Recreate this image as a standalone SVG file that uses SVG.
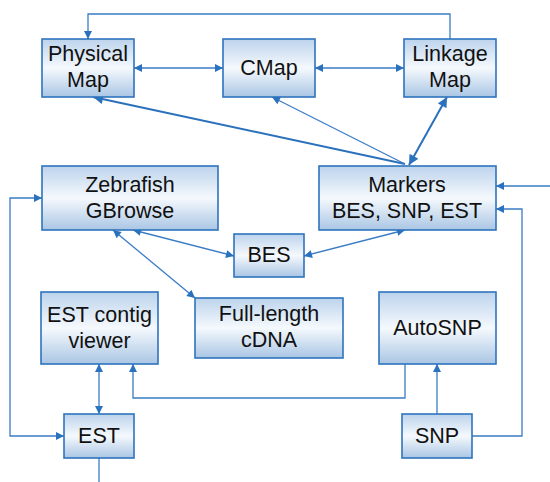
<svg xmlns="http://www.w3.org/2000/svg" width="550" height="482" viewBox="0 0 550 482">
<defs>
<linearGradient id="g" x1="0" y1="0" x2="0" y2="1">
<stop offset="0" stop-color="#bcd3ec"/>
<stop offset="0.5" stop-color="#f5f9fd"/>
<stop offset="1" stop-color="#aac6e4"/>
</linearGradient>
<marker id="a" viewBox="0 0 10 10" refX="10" refY="5" markerWidth="9" markerHeight="8" markerUnits="userSpaceOnUse" orient="auto-start-reverse">
<path d="M0,0 L10,5 L0,10 z" fill="#2a72be"/>
</marker>
<marker id="b" viewBox="0 0 10 10" refX="10" refY="5" markerWidth="11" markerHeight="10" markerUnits="userSpaceOnUse" orient="auto-start-reverse">
<path d="M0,0 L10,5 L0,10 z" fill="#2a72be"/>
</marker>
</defs>
<style>
.box{fill:url(#g);stroke:#2e74bd;stroke-width:1.6}
.t{font-family:"Liberation Sans",Arial,sans-serif;font-size:21.5px;fill:#111;text-anchor:middle}
.c{fill:none;stroke:#3a7cc4;stroke-width:1.3}
.k{fill:none;stroke:#2a70bb;stroke-width:2}
</style>
<g id="connectors">
<polyline class="c" points="450,39 450,14 88,14 88,39" marker-end="url(#a)"/>
<line class="c" x1="134" y1="68" x2="223" y2="68" marker-start="url(#a)" marker-end="url(#a)"/>
<line class="c" x1="315" y1="68" x2="404" y2="68" marker-start="url(#a)" marker-end="url(#a)"/>
<line class="k" x1="405" y1="164" x2="93" y2="97" marker-end="url(#b)"/>
<line class="c" x1="405" y1="164" x2="272" y2="97" marker-end="url(#a)"/>
<line class="k" x1="447" y1="97" x2="409" y2="165" marker-start="url(#b)" marker-end="url(#b)"/>
<line class="c" x1="133" y1="230" x2="234" y2="256" marker-start="url(#a)" marker-end="url(#a)"/>
<line class="c" x1="113" y1="230" x2="195" y2="298" marker-start="url(#a)" marker-end="url(#a)"/>
<line class="c" x1="405" y1="230" x2="304" y2="256" marker-start="url(#a)" marker-end="url(#a)"/>
<line class="c" x1="550" y1="186" x2="496" y2="186" marker-end="url(#a)"/>
<polyline class="c" points="472,436 522,436 522,209 496,209" marker-end="url(#a)"/>
<polyline class="c" points="42,198 10,198 10,436 64,436" marker-start="url(#a)" marker-end="url(#a)"/>
<line class="c" x1="99" y1="364" x2="99" y2="414" marker-start="url(#a)" marker-end="url(#a)"/>
<polyline class="c" points="405,364 405,398 133,398 133,364" marker-end="url(#a)"/>
<line class="c" x1="437" y1="414" x2="437" y2="364" marker-end="url(#a)"/>
<line class="c" x1="99" y1="458" x2="99" y2="482"/>
</g>
<g id="physical-map"><rect class="box" x="42" y="39" width="92" height="58"/><text class="t" x="88" y="61">Physical</text><text class="t" x="88" y="87">Map</text></g>
<g id="cmap"><rect class="box" x="223" y="39" width="92" height="58"/><text class="t" x="269" y="75">CMap</text></g>
<g id="linkage-map"><rect class="box" x="404" y="39" width="92" height="58"/><text class="t" x="450" y="61">Linkage</text><text class="t" x="450" y="87">Map</text></g>
<g id="zebrafish-gbrowse"><rect class="box" x="42" y="166" width="176" height="64"/><text class="t" x="130" y="192">Zebrafish</text><text class="t" x="130" y="218">GBrowse</text></g>
<g id="markers"><rect class="box" x="319" y="166" width="177" height="64"/><text class="t" x="407" y="192">Markers</text><text class="t" x="407" y="218">BES, SNP, EST</text></g>
<g id="bes"><rect class="box" x="234" y="234" width="70" height="43"/><text class="t" x="269" y="262">BES</text></g>
<g id="est-contig-viewer"><rect class="box" x="41" y="292" width="117" height="72"/><text class="t" x="99.5" y="322">EST contig</text><text class="t" x="99.5" y="348">viewer</text></g>
<g id="full-length-cdna"><rect class="box" x="195" y="298" width="148" height="60"/><text class="t" x="269" y="321">Full-length</text><text class="t" x="269" y="347">cDNA</text></g>
<g id="autosnp"><rect class="box" x="379" y="292" width="117" height="72"/><text class="t" x="437.5" y="335">AutoSNP</text></g>
<g id="est"><rect class="box" x="64" y="414" width="70" height="44"/><text class="t" x="99" y="443">EST</text></g>
<g id="snp"><rect class="box" x="402" y="414" width="70" height="44"/><text class="t" x="437" y="443">SNP</text></g>
</svg>
